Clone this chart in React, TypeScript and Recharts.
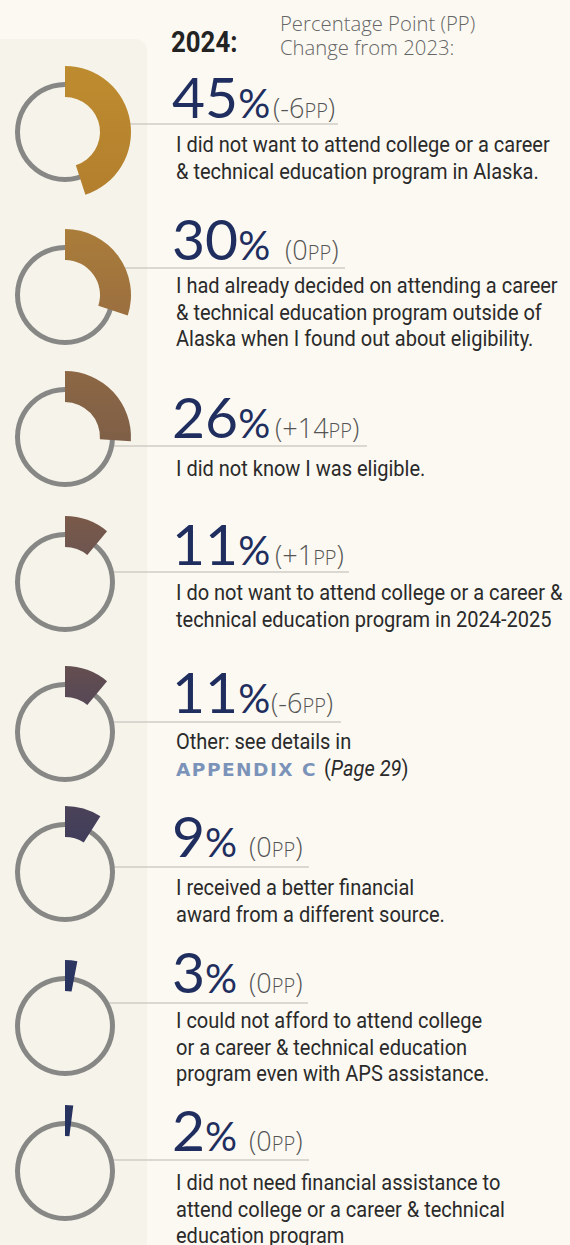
import { Cell, Pie, PieChart } from 'recharts'

const shares = [45, 30, 26, 11, 11, 9, 3, 2]
const ppChanges = ['-6', '0', '+14', '+1', '-6', '0', '0', '0']
const reasons = [
  ['I did not want to attend college or a career', '& technical education program in Alaska.'],
  [
    'I had already decided on attending a career',
    '& technical education program outside of',
    'Alaska when I found out about eligibility.',
  ],
  ['I did not know I was eligible.'],
  ['I do not want to attend college or a career &', 'technical education program in 2024-2025'],
  ['Other: see details in', 'APPENDIX C|(Page 29)'],
  ['I received a better financial', 'award from a different source.'],
  ['I could not afford to attend college', 'or a career & technical education', 'program even with APS assistance.'],
  ['I did not need financial assistance to', 'attend college or a career & technical', 'education program'],
]
const sectorTop = ['#BE8C2F', '#AA7D3A', '#8D6744', '#7A5A49', '#644E50', '#4B4258', '#2E3762', '#28335F']
const sectorBottom = ['#B37F2E', '#9B6F3F', '#7E5F47', '#6D5550', '#564856', '#403D5B', '#26325F', '#24305D']

// layout, px
const rowCy = [132, 295, 437, 582, 732, 872, 1026, 1171]
const ruleY = [124, 268, 446, 572, 722, 867, 1003, 1160]
const ruleEnd = [338, 345, 367, 349, 341, 309, 308, 309]
const numY = [118, 260, 438, 565, 713, 857, 993, 1151]
const ppX = [273, 285, 275, 275, 271, 249, 249, 249]
const textY = [152, 293, 476, 600, 749, 895, 1028, 1190]
const CX = 65
const RING_R = 50
const SQUEEZE = 0.91

const body = "Roboto, 'Open Sans', sans-serif"
const round = "Lato, 'Open Sans', sans-serif"
const light = "'Open Sans', Lato, sans-serif"

function Narrow({ x, y, children, size = 22, weight = 400, fill = '#2A2A2A', squeeze = SQUEEZE }: any) {
  return (
    <text
      transform={`translate(${x} ${y}) scale(${squeeze} 1)`}
      fontFamily={body}
      fontSize={size}
      fontWeight={weight}
      fill={fill}
    >
      {children}
    </text>
  )
}

export default function App() {
  return (
    <div style={{ position: 'absolute', left: 0, top: 0, width: 570, height: 1245, background: '#FBF9F2', overflow: 'hidden' }}>
      <div
        style={{
          position: 'absolute',
          left: 0,
          top: 39,
          width: 147,
          height: 1215,
          background: '#F5F3EA',
          borderRadius: '0 12px 12px 0',
        }}
      />
      <svg width={570} height={1245} style={{ position: 'absolute', left: 0, top: 0 }}>
        {ruleY.map((y, i) => {
          const dy = y - rowCy[i]
          const x0 = CX + Math.sqrt(RING_R * RING_R - dy * dy) - 1
          return <line key={i} x1={x0} x2={ruleEnd[i]} y1={y} y2={y} stroke="#CFCDC6" strokeWidth={1.5} />
        })}
      </svg>
      <div style={{ position: 'absolute', left: 0, top: 0 }}>
        <PieChart width={570} height={1245} margin={{ top: 0, right: 0, bottom: 0, left: 0 }}>
          <defs>
            {sectorTop.map((c, i) => (
              <linearGradient key={i} id={`sec${i}`} x1="0" y1="0" x2="0" y2="1">
                <stop offset="0%" stopColor={c} />
                <stop offset="100%" stopColor={sectorBottom[i]} />
              </linearGradient>
            ))}
          </defs>
          {shares.map((s, i) => (
            <Pie
              key={`ring${i}`}
              data={[{ name: 'all', value: 100 }]}
              dataKey="value"
              cx={CX}
              cy={rowCy[i]}
              innerRadius={45}
              outerRadius={RING_R}
              fill="#878785"
              stroke="none"
              isAnimationActive={false}
            />
          ))}
          {shares.map((s, i) => (
            <Pie
              key={`share${i}`}
              data={[
                { name: 'share', value: s },
                { name: 'rest', value: 100 - s },
              ]}
              dataKey="value"
              cx={CX}
              cy={rowCy[i]}
              innerRadius={35}
              outerRadius={66}
              startAngle={90}
              endAngle={-270}
              stroke="none"
              isAnimationActive={false}
            >
              <Cell fill={`url(#sec${i})`} />
              <Cell fill="none" />
            </Pie>
          ))}
        </PieChart>
      </div>
      <svg width={570} height={1245} style={{ position: 'absolute', left: 0, top: 0 }}>
        <Narrow x={171} y={52} size={30} weight={700} fill="#232323" squeeze={0.86}>
          2024:
        </Narrow>
        <text x={280} y={31} fontFamily={light} fontWeight={300} fontSize={20.3} fill="#666666">
          Percentage Point (PP)
        </text>
        <text x={280} y={55} fontFamily={light} fontWeight={300} fontSize={20.3} fill="#666666">
          Change from 2023:
        </text>
        {shares.map((s, i) => (
          <g key={i}>
            <text x={172} y={numY[i]} fontFamily={round} fill="#1F2E5E">
              <tspan fontSize={57}>{s}</tspan>
              <tspan fontSize={40}>%</tspan>
            </text>
            <text x={ppX[i]} y={numY[i]} fontFamily={light} fontWeight={300} fill="#555555">
              <tspan fontSize={27}>({ppChanges[i]}</tspan>
              <tspan fontSize={20}>PP</tspan>
              <tspan fontSize={27}>)</tspan>
            </text>
            {reasons[i].map((line, j) => {
              const y = textY[i] + j * 26.5
              if (line.includes('|')) {
                const [tag, ref] = line.split('|')
                return (
                  <g key={j}>
                    <text
                      x={176}
                      y={y}
                      fontFamily="'DejaVu Sans', sans-serif"
                      fontWeight={700}
                      fontSize={18.5}
                      letterSpacing={1.5}
                      fill="#7B93B9"
                    >
                      {tag}
                    </text>
                    <Narrow x={324} y={y}>
                      <tspan>{ref.slice(0, 1)}</tspan>
                      <tspan fontStyle="italic">{ref.slice(1, -1)}</tspan>
                      <tspan>{ref.slice(-1)}</tspan>
                    </Narrow>
                  </g>
                )
              }
              return (
                <Narrow key={j} x={176} y={y}>
                  {line}
                </Narrow>
              )
            })}
          </g>
        ))}
      </svg>
    </div>
  )
}
